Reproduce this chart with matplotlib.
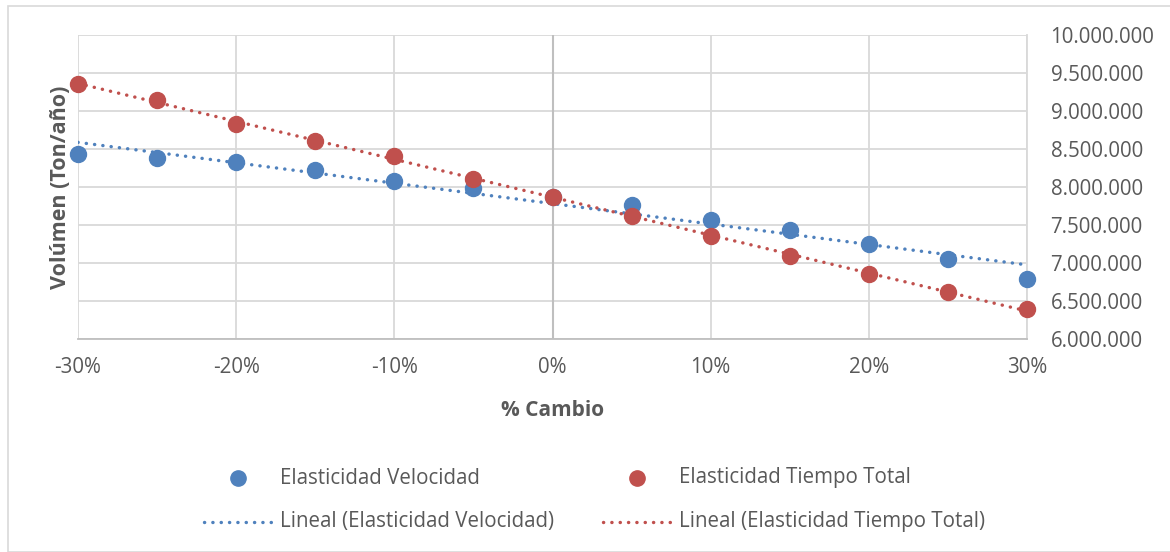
import matplotlib
matplotlib.use("Agg")
import matplotlib.pyplot as plt
import numpy as np
from matplotlib.lines import Line2D
from matplotlib.patches import Rectangle
from matplotlib.ticker import FuncFormatter

plt.rcParams['font.family'] = ['Open Sans', 'DejaVu Sans']

cambio = [-0.30, -0.25, -0.20, -0.15, -0.10, -0.05, 0.0, 0.05, 0.10, 0.15, 0.20, 0.25, 0.30]
elast_velocidad = [8434000, 8382000, 8329000, 8224000, 8079000, 7987000, 7868000,
                   7763000, 7566000, 7434000, 7250000, 7053000, 6789000]
elast_tiempo = [9355000, 9145000, 8829000, 8605000, 8408000, 8105000, 7868000,
                7618000, 7355000, 7092000, 6855000, 6618000, 6395000]
x_ticks = [-0.30, -0.20, -0.10, 0.0, 0.10, 0.20, 0.30]
y_ticks = [6000000, 6500000, 7000000, 7500000, 8000000, 8500000, 9000000, 9500000, 10000000]

BLUE = '#4F81BD'
RED = '#C0504D'
GRID = '#D9D9D9'
TXT = '#595959'
FS = 14.8

W, H = 1170, 552
fig = plt.figure(figsize=(W/100, H/100), dpi=100)
fig.patches.append(Rectangle((8/W, 0/H), 1.2, (H-6)/H, transform=fig.transFigure,
                             fill=False, edgecolor='#D9D9D9', linewidth=1.2))
ax = fig.add_axes([78/W, (H-339)/H, (1027-78)/W, (339-35)/H])

ax.set_xlim(-0.30, 0.30)
ax.set_ylim(6000000, 10000000)
ax.set_xticks(x_ticks)
ax.set_yticks(y_ticks)
ax.xaxis.set_major_formatter(FuncFormatter(lambda v, p: f"{v*100:.0f}%"))
ax.yaxis.set_major_formatter(FuncFormatter(lambda v, p: f"{int(round(v)):,}".replace(',', '.')))
ax.yaxis.tick_right()
ax.tick_params(axis='both', length=0, labelsize=FS, colors=TXT)
ax.tick_params(axis='y', pad=17)
ax.tick_params(axis='x', pad=13)
ax.grid(True, color=GRID, linewidth=1.3)
ax.set_axisbelow(True)
for s in ['left', 'top']:
    ax.spines[s].set_visible(False)
ax.spines['right'].set_color(GRID)
ax.spines['right'].set_linewidth(1.3)
ax.spines['bottom'].set_color('#BFBFBF')
ax.spines['bottom'].set_linewidth(1.3)
ax.axvline(0, color='#BFBFBF', linewidth=1.5, zorder=1)

xs = np.array(cambio)
xl = np.array([-0.30, 0.30])
dot = (0, (0.05, 2.4))
LW = 2.45
for ys, c in [(elast_velocidad, BLUE), (elast_tiempo, RED)]:
    m, b = np.polyfit(xs, np.array(ys, dtype=float), 1)
    ax.plot(xl, m*xl + b, color=c, linewidth=LW, linestyle=dot,
            dash_capstyle='round', zorder=2)
for ys, c in [(elast_velocidad, BLUE), (elast_tiempo, RED)]:
    ax.plot(xs, ys, linestyle='none', marker='o', markersize=11.5, color=c, zorder=3,
            clip_on=False)

ax.set_xlabel('% Cambio', fontsize=15, fontweight='bold', color=TXT, labelpad=16)
fig.text(60/W, 1-187/H, 'Volúmen (Ton/año)', rotation=90, ha='center', va='center',
         fontsize=15.5, fontweight='bold', color=TXT)

# legend (manual)
def fx(px):
    return px / W
def fy(py):
    return 1 - py / H

fig.add_artist(Line2D([fx(238)], [fy(478)], marker='o', markersize=11, color=BLUE,
                      linestyle='none', transform=fig.transFigure))
fig.text(fx(280), fy(478), 'Elasticidad Velocidad', fontsize=FS, color=TXT, va='center')
fig.add_artist(Line2D([fx(637)], [fy(478)], marker='o', markersize=11, color=RED,
                      linestyle='none', transform=fig.transFigure))
fig.text(fx(679), fy(478), 'Elasticidad Tiempo Total', fontsize=FS, color=TXT, va='center')
fig.add_artist(Line2D([fx(204), fx(271)], [fy(522), fy(522)], color=BLUE, linewidth=LW,
                      linestyle=dot, dash_capstyle='round', transform=fig.transFigure))
fig.text(fx(280), fy(522), 'Lineal (Elasticidad Velocidad)', fontsize=FS, color=TXT, va='center')
fig.add_artist(Line2D([fx(603), fx(671)], [fy(522), fy(522)], color=RED, linewidth=LW,
                      linestyle=dot, dash_capstyle='round', transform=fig.transFigure))
fig.text(fx(679), fy(522), 'Lineal (Elasticidad Tiempo Total)', fontsize=FS, color=TXT, va='center')

fig.savefig('out.png', dpi=100)
